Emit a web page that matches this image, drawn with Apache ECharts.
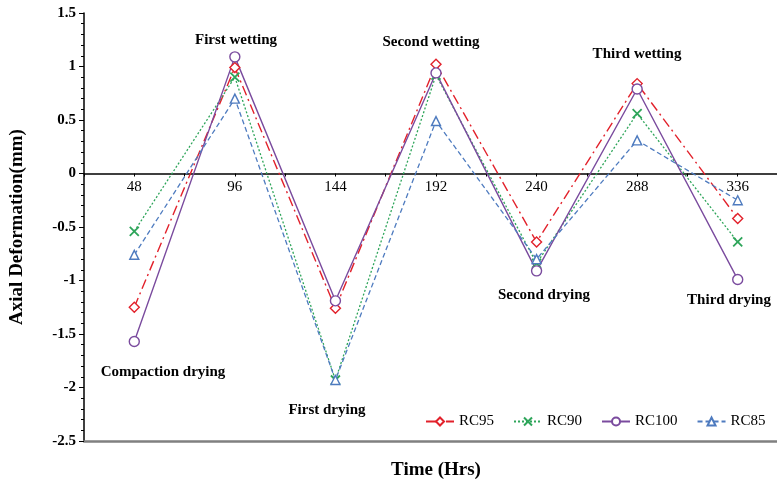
<!DOCTYPE html>
<html><head><meta charset="utf-8">
<script src="https://cdn.jsdelivr.net/npm/echarts@6/dist/echarts.min.js"></script>
<style>html,body{margin:0;padding:0;background:#fff}#c{width:777px;height:479px}</style>
</head><body><div id="c"></div>
<script>
const hours = [48, 96, 144, 192, 240, 288, 336];
const rc95  = [-1.25, 0.99, -1.26, 1.02, -0.64, 0.84, -0.42];
const rc90  = [-0.54, 0.90, -1.93, 0.92, -0.84, 0.56, -0.64];
const rc100 = [-1.57, 1.09, -1.19, 0.94, -0.91, 0.79, -0.99];
const rc85  = [-0.76, 0.70, -1.93, 0.49, -0.80, 0.31, -0.25];
const yTicks = [-2.5, -2, -1.5, -1, -0.5, 0, 0.5, 1, 1.5];
const notes = [
  {text:'First wetting', x:236, y:40},
  {text:'Second wetting', x:431, y:42},
  {text:'Third wetting', x:637, y:54},
  {text:'Compaction drying', x:163, y:372},
  {text:'First drying', x:327, y:410},
  {text:'Second drying', x:544, y:295},
  {text:'Third drying', x:729, y:300}
];
const F = '"Liberation Serif","Times New Roman",serif';
function pts(a){ return hours.map((h,i)=>[h,a[i]]); }
const chart = echarts.init(document.getElementById('c'));
function mk(name, data, color, lineType, symbol, size, width){
  return {
    name, type:'line', data: pts(data), symbol, symbolSize:size,
    xAxisIndex:0, yAxisIndex:0,
    lineStyle:{color, width: width||1.3, type: lineType},
    itemStyle:{color:'#fff', borderColor:color, borderWidth:1.4},
    emphasis:{disabled:true}, z: 3
  };
}
const TOP = 13, BOTTOM = 38, H = 479 - TOP - BOTTOM;
const yMin = yTicks[0], yMax = yTicks[yTicks.length-1];
const zeroBottom = 479 - (TOP + H * (yMax - 0) / (yMax - yMin));
const G = {left:84, right:-11, top:TOP, bottom:BOTTOM, containLabel:false, outerBoundsMode:'none'};
chart.setOption({
  animation:false,
  backgroundColor:'#fff',
  grid:[Object.assign({}, G), Object.assign({}, G), Object.assign({}, G, {bottom: zeroBottom})],
  xAxis:[{
    gridIndex:0, type:'value', min:24, max:360, show:false
  },{
    gridIndex:1, type:'value', min:24, max:360, position:'bottom',
    axisLine:{onZero:false, lineStyle:{color:'#808080', width:2.5}},
    axisTick:{show:false}, axisLabel:{show:false}, splitLine:{show:false},
    name:'Time (Hrs)', nameLocation:'middle', nameGap:20,
    nameTextStyle:{color:'#000', fontFamily:F, fontSize:19, fontWeight:'bold'}
  },{
    gridIndex:2, type:'value', min:24, max:360, interval:24, position:'bottom',
    axisLine:{onZero:false, lineStyle:{color:'#000', width:1.5}},
    axisTick:{show:true, length:3, lineStyle:{color:'#000'}},
    splitLine:{show:false},
    axisLabel:{color:'#000', fontFamily:F, fontSize:15, margin:6,
      formatter:v=> (hours.indexOf(v)>=0 ? String(v) : ''), showMinLabel:true, showMaxLabel:false}
  }],
  yAxis:[{
    gridIndex:0, type:'value', min:yMin, max:yMax, interval:0.5,
    axisLine:{show:true, onZero:false, lineStyle:{color:'#000', width:1.5}},
    axisTick:{show:true, length:5, lineStyle:{color:'#000'}},
    minorTick:{show:true, splitNumber:5, length:3, lineStyle:{color:'#000'}},
    splitLine:{show:false},
    axisLabel:{color:'#000', fontFamily:F, fontSize:15, fontWeight:'bold', margin:8},
    name:'Axial Deformation(mm)', nameLocation:'middle', nameGap:57,
    nameTextStyle:{color:'#000', fontFamily:F, fontSize:19, fontWeight:'bold'}
  },{
    gridIndex:1, type:'value', min:yMin, max:yMax, show:false
  },{
    gridIndex:2, type:'value', min:0, max:yMax, show:false
  }],
  legend:{
    left:420, top:409, width:356, itemGap:19, itemWidth:28, itemHeight:10,
    textStyle:{color:'#000', fontFamily:F, fontSize:15},
    data:['RC95','RC90','RC100','RC85']
  },
  series:[
    mk('RC95', rc95, '#e2212b', [10,4,2,4], 'diamond', 10, 1.4),
    Object.assign(mk('RC90', rc90, '#2ea55a', [2,2], 'path://M0,0L10,10M10,0L0,10', 9, 1.3),
      {itemStyle:{color:'rgba(0,0,0,0)', borderColor:'#2ea55a', borderWidth:1.8}}),
    mk('RC100', rc100, '#7a4b9e', 'solid', 'circle', 10, 1.4),
    mk('RC85', rc85, '#4e7bbf', [5,3], 'triangle', 9, 1.3)
  ],
  graphic: notes.map(n=>({
    type:'text', x:n.x, y:n.y, z:10,
    style:{text:n.text, fill:'#000', font:'bold 15px '+F, align:'center', verticalAlign:'middle'}
  }))
});
</script></body></html>
